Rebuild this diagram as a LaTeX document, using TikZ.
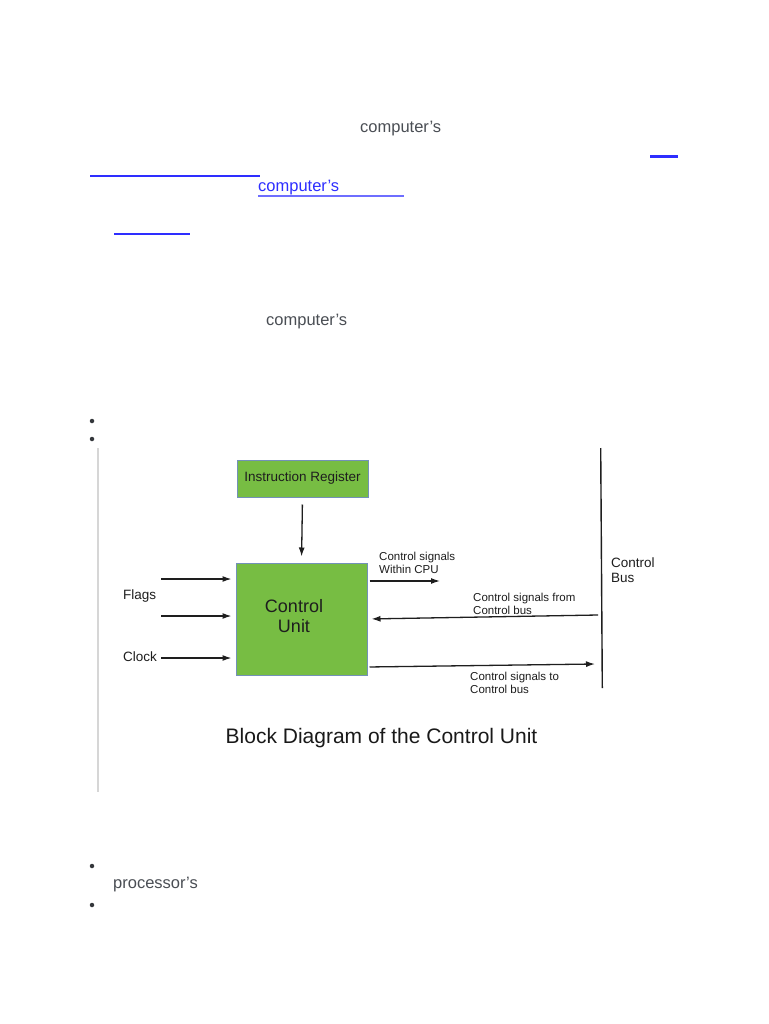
\documentclass[tikz,border=0pt]{standalone}
\usepackage{fontspec}
\setmainfont{Liberation Sans}
\usetikzlibrary{arrows.meta}
\definecolor{pagetext}{HTML}{4A4E54}
\definecolor{linkblue}{HTML}{2E2EFF}
\definecolor{linklight}{HTML}{6E6EFF}
\definecolor{boxgreen}{HTML}{77BD43}
\definecolor{boxedge}{HTML}{7391B8}
\definecolor{sidebar}{HTML}{D6D6D6}
\definecolor{diag}{HTML}{1E1E1E}
\tikzset{
 pagetxt/.style={font=\fontsize{16.5}{18}\selectfont, text=pagetext, inner sep=0pt, anchor=west},
 linktxt/.style={pagetxt, text=linkblue},
 linkline/.style={draw=linkblue, line width=1.5pt},
 bulletdot/.style={circle, fill=pagetext!70!black, inner sep=0pt, minimum size=4.5pt},
 block/.style={draw=boxedge, line width=1pt, fill=boxgreen, inner sep=0pt},
 lbl/.style={font=\fontsize{11.5}{13}\selectfont, text=diag, inner sep=0pt, anchor=west, align=left},
 sidelbl/.style={font=\fontsize{13.5}{15}\selectfont, text=diag, inner sep=0pt, anchor=west},
 sig/.style={draw=diag, line width=1.3pt, -{Latex[length=9pt,width=6pt]}},
}
\begin{document}
\begin{tikzpicture}[x=1pt,y=-1pt]
\useasboundingbox (0,0) rectangle (768,1024);
\fill[white] (0,0) rectangle (768,1024);
% page text
\node[pagetxt] (t1) at (360,129) {computer’s};
\draw[linkline, line width=2.5pt] (650,156.5) -- (678,156.5);
\draw[linkline] (90,176) -- (260,176);
\node[linktxt] (t2) at (258,188) {computer’s};
\draw[draw=linklight, line width=1.5pt] (258,196) -- (404,196);
\draw[linkline] (114,234) -- (190,234);
\node[pagetxt] (t3) at (266,322) {computer’s};
\node[bulletdot] (b1) at (92,421) {};
\node[bulletdot] (b2) at (92,439) {};
\draw[sidebar, line width=2pt] (98,448) -- (98,792);
% diagram
\node[block, minimum width=131pt, minimum height=37pt] (ir) at (302.5,478.5)
  {\fontsize{13.5}{15}\selectfont\color{diag}Instruction Register};
\node[block, minimum width=131pt, minimum height=112pt] (cu) at (301.5,619) {};
\node[font=\fontsize{18}{20}\selectfont, text=diag, align=center, inner sep=0pt] (cut) at (294,616) {Control\\Unit};
\draw[sig, shorten <=7pt, shorten >=6pt] (ir.south) -- (cu.north);
% inputs
\coordinate (f1) at (161,579);
\coordinate (f2) at (161,616);
\coordinate (ck) at (161,658);
\draw[sig, shorten >=4pt] (f1) -- (f1 -| cu.west);
\draw[sig, shorten >=4pt] (f2) -- (f2 -| cu.west);
\draw[sig, shorten >=4pt] (ck) -- (ck -| cu.west);
\node[sidelbl] (flags) at (123,596) {Flags};
\node[sidelbl] (clock) at (123,657) {Clock};
% control bus
\coordinate (bt) at (600.7,448);
\coordinate (bb) at (602.3,688);
\draw[draw=diag, line width=1.4pt] (bt) -- (bb);
\node[sidelbl, align=left, anchor=north west] (bus) at (611,558) {Control\\Bus};
% outputs
\coordinate (w1) at (440,581);
\draw[sig, shorten <=2pt] ([yshift=38pt]cu.east) -- (w1);
\node[lbl] (l1) at (379,562.5) {Control signals\\Within CPU};
\coordinate (fb) at (598,615);
\draw[sig, shorten >=4pt] (fb) -- (cu.east);
\node[lbl] (l2) at (473,603.5) {Control signals from\\Control bus};
\coordinate (tb) at (595,664);
\draw[sig, shorten <=2pt] ([yshift=-48pt]cu.east) -- (tb);
\node[lbl] (l3) at (470,683) {Control signals to\\Control bus};
% caption
\node[font=\fontsize{21}{24}\selectfont, text=black!90, inner sep=0pt] (cap) at (381.5,738) {Block Diagram of the Control Unit};
% bottom list
\node[bulletdot] (b3) at (92,866) {};
\node[pagetxt] (t4) at (113,885) {processor’s};
\node[bulletdot] (b4) at (92,905) {};
\end{tikzpicture}
\end{document}
